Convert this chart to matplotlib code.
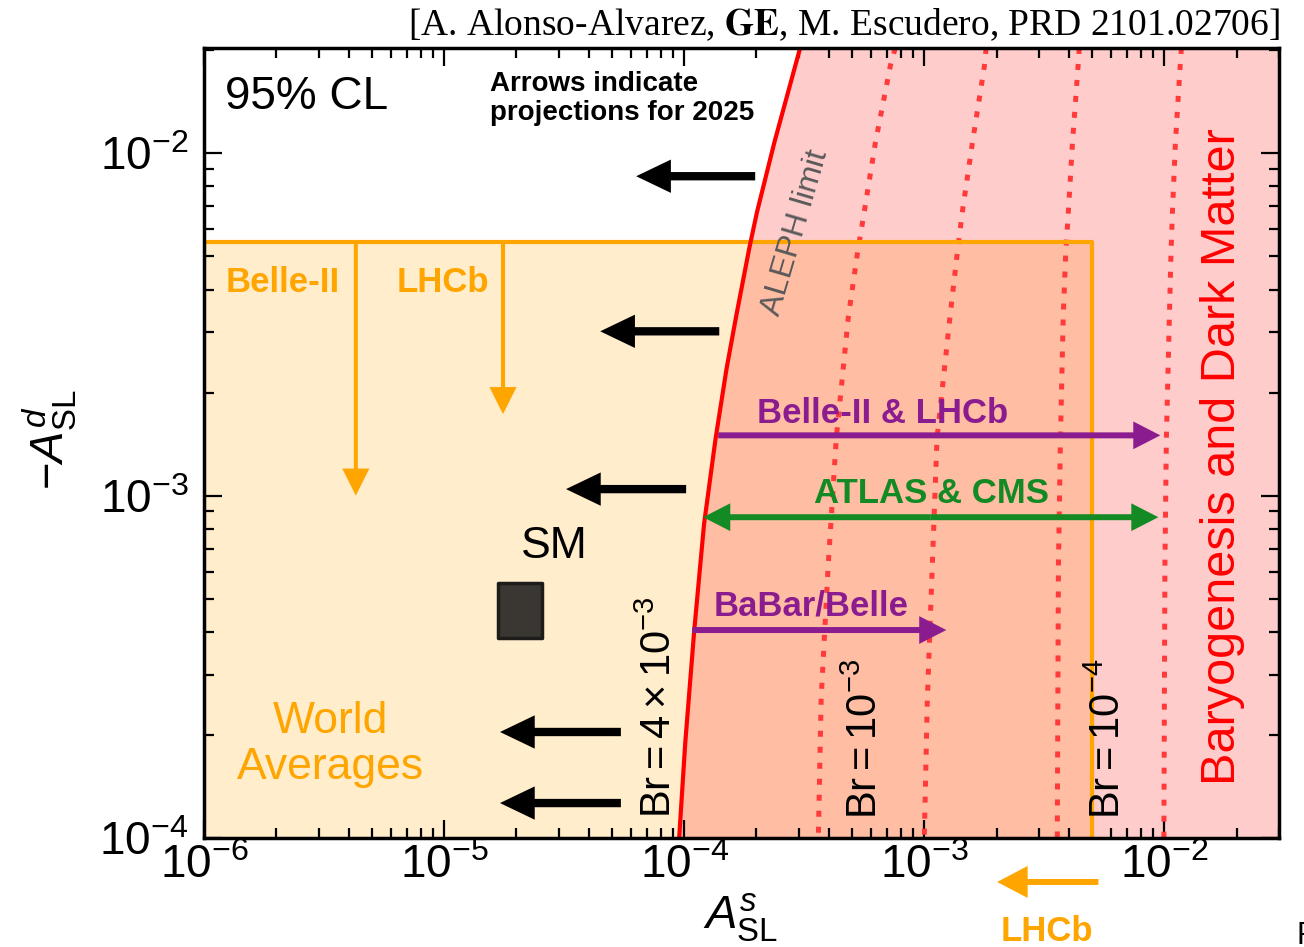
import matplotlib
matplotlib.use('Agg')
import matplotlib.pyplot as plt
from matplotlib.patches import Rectangle
from matplotlib.ticker import NullFormatter

plt.rcParams['font.family'] = ['Liberation Sans', 'DejaVu Sans']
plt.rcParams['mathtext.fontset'] = 'custom'
plt.rcParams['mathtext.rm'] = 'Liberation Sans'
plt.rcParams['mathtext.it'] = 'Liberation Sans:italic'
plt.rcParams['mathtext.bf'] = 'Liberation Sans:bold'
plt.rcParams['mathtext.sf'] = 'Liberation Sans'

ORANGE = '#FFA500'
PURPLE = '#8B1C8F'
GREEN = '#148A24'

# axis ranges
x_lim = [1e-6, 3.0e-2]
y_lim = [1e-4, 2.03e-2]

# ALEPH limit, Br = 4e-3 (solid red)
aleph_x = [9.53e-5, 1.01e-4, 1.10e-4, 1.21e-4, 1.35e-4, 1.50e-4, 1.65e-4, 1.87e-4, 2.01e-4, 2.37e-4, 3.04e-4]
aleph_y = [1.0e-4, 1.89e-4, 4.0e-4, 8.26e-4, 1.46e-3, 2.34e-3, 3.37e-3, 5.31e-3, 6.73e-3, 1.07e-2, 2.03e-2]

# dotted Br contours (all share the same y samples)
br_y = [2.03e-2, 1.80e-2, 1.07e-2, 6.73e-3, 5.07e-3, 3.34e-3, 1.47e-3, 6.27e-4, 2.56e-4, 1.0e-4]
br1_x = [7.57e-4, 7.22e-4, 6.25e-4, 5.62e-4, 5.26e-4, 4.83e-4, 4.30e-4, 3.98e-4, 3.72e-4, 3.62e-4]
br2_x = [1.81e-3, 1.78e-3, 1.585e-3, 1.44e-3, 1.37e-3, 1.28e-3, 1.13e-3, 1.08e-3, 1.03e-3, 1.0e-3]
br3_x = [4.42e-3, 4.37e-3, 4.14e-3, 3.98e-3, 3.88e-3, 3.79e-3, 3.69e-3, 3.62e-3, 3.60e-3, 3.58e-3]
br4_x = [1.177e-2, 1.163e-2, 1.111e-2, 1.080e-2, 1.065e-2, 1.049e-2, 1.019e-2, 1.005e-2, 1.0e-2, 0.995e-2]

# world averages box
wa_x = 5.01e-3
wa_y = 5.5e-3

# SM box
sm_x = [1.67e-5, 2.57e-5]
sm_y = [3.83e-4, 5.54e-4]

# 2025 projection arrows (black, pointing left)
proj_y = [8.57e-3, 3.02e-3, 1.045e-3, 2.04e-4, 1.265e-4]
proj_from = [1.976e-4, 1.40e-4, 1.019e-4, 5.45e-5, 5.45e-5]
proj_to = [6.31e-5, 4.47e-5, 3.22e-5, 1.71e-5, 1.71e-5]

# Belle-II / LHCb A_SL^d projections (orange, down)
belle2_x, belle2_tip = 4.29e-6, 1.0e-3
lhcb_x, lhcb_tip = 1.76e-5, 1.73e-3

# sensitivity ranges
b2lhcb = [1.386e-4, 9.62e-3, 1.50e-3]
atlas = [1.20e-4, 9.44e-3, 8.65e-4]
babar = [1.08e-4, 1.235e-3, 4.05e-4]

# LHCb A_SL^s projection (below axis)
lhcb_s = [5.31e-3, 2.01e-3, 7.44e-5]


fig = plt.figure(figsize=(13.04, 9.47), dpi=100)
ax = fig.add_axes([0.1564, 0.1151, 0.8244, 0.8342])
ax.set_xscale('log')
ax.set_yscale('log')
ax.set_xlim(x_lim)
ax.set_ylim(y_lim)

# regions
ax.fill_between([x_lim[0], wa_x], y_lim[0], wa_y, color=ORANGE, alpha=0.2, lw=0, zorder=1)
ax.fill_betweenx(aleph_y, aleph_x, x_lim[1], color='red', alpha=0.2, lw=0, zorder=1.5)
ax.plot([x_lim[0], wa_x, wa_x], [wa_y, wa_y, y_lim[0]], color=ORANGE, lw=3, zorder=2.5)

for bx in [br1_x, br2_x, br3_x, br4_x]:
    ax.plot(bx, br_y, color='#FF3A3A', lw=3.6, ls=(0, (1.2, 2.0)), zorder=2)
ax.plot(aleph_x, aleph_y, color='red', lw=3, zorder=3)

ax.add_patch(Rectangle((sm_x[0], sm_y[0]), sm_x[1] - sm_x[0], sm_y[1] - sm_y[0],
                       facecolor='#3a3631', edgecolor='#1e1c1a', lw=2.5, joinstyle='round', zorder=4))


def arrow(x0, y0, x1, y1, color, hl, hw, tw):
    style = 'simple,head_length=%g,head_width=%g,tail_width=%g' % (hl, hw, tw)
    ax.annotate('', xy=(x1, y1), xytext=(x0, y0),
                arrowprops=dict(arrowstyle=style, color=color, lw=0,
                                shrinkA=0, shrinkB=0, mutation_scale=10),
                annotation_clip=False, zorder=5)


for y, x0, x1 in zip(proj_y, proj_from, proj_to):
    arrow(x0, y, x1, y, 'black', 2.5, 2.4, 0.6)

arrow(belle2_x, wa_y, belle2_x, belle2_tip, ORANGE, 1.95, 1.95, 0.29)
arrow(lhcb_x, wa_y, lhcb_x, lhcb_tip, ORANGE, 1.95, 1.95, 0.29)

arrow(b2lhcb[0], b2lhcb[2], b2lhcb[1], b2lhcb[2], PURPLE, 1.95, 2.0, 0.43)
arrow(babar[0], babar[2], babar[1], babar[2], PURPLE, 1.95, 2.0, 0.43)
mid = (atlas[0] * atlas[1]) ** 0.5
arrow(mid, atlas[2], atlas[1], atlas[2], GREEN, 1.95, 2.0, 0.43)
arrow(mid, atlas[2], atlas[0], atlas[2], GREEN, 1.95, 2.0, 0.43)

arrow(lhcb_s[0], lhcb_s[2], lhcb_s[1], lhcb_s[2], ORANGE, 2.2, 2.3, 0.43)

# labels
ax.text(1.22e-6, 1.457e-2, '95% CL', fontsize=33, ha='left', va='center')
ax.text(1.555e-5, 1.447e-2, 'Arrows indicate\nprojections for 2025', fontsize=20,
        fontweight='bold', ha='left', va='center', linespacing=1.15)
ax.text(1.235e-6, 4.2e-3, 'Belle-II', color=ORANGE, fontsize=25, fontweight='bold', ha='left', va='center')
ax.text(6.37e-6, 4.2e-3, 'LHCb', color=ORANGE, fontsize=25, fontweight='bold', ha='left', va='center')
ax.text(6.68e-4, 1.74e-3, 'Belle-II & LHCb', color=PURPLE, fontsize=25, fontweight='bold', ha='center', va='center')
ax.text(1.07e-3, 1.017e-3, 'ATLAS & CMS', color=GREEN, fontsize=25, fontweight='bold', ha='center', va='center')
ax.text(3.38e-4, 4.76e-4, 'BaBar/Belle', color=PURPLE, fontsize=25, fontweight='bold', ha='center', va='center')
ax.text(2.87e-5, 7.12e-4, 'SM', fontsize=32, ha='center', va='center')
ax.text(3.38e-6, 1.88e-4, 'World\nAverages', color=ORANGE, fontsize=32, ha='center', va='center', linespacing=1.15)
ax.text(2.90e-4, 5.87e-3, 'ALEPH limit', rotation=73.6, color='#5a5a5a', fontsize=23,
        ha='center', va='center', rotation_mode='anchor')
ax.text(1.745e-2, 1.296e-3, 'Baryogenesis and Dark Matter', rotation=90, color='red',
        fontsize=35, ha='center', va='center')
ax.text(7.94e-5, 2.41e-4, r'$\mathrm{Br}=4\times10^{-3}$', rotation=90, fontsize=30, ha='center', va='center')
ax.text(5.73e-4, 1.945e-4, r'$\mathrm{Br}=10^{-3}$', rotation=90, fontsize=30, ha='center', va='center')
ax.text(5.84e-3, 1.945e-4, r'$\mathrm{Br}=10^{-4}$', rotation=90, fontsize=30, ha='center', va='center')
ax.text(3.25e-3, 5.35e-5, 'LHCb', color=ORANGE, fontsize=25, fontweight='bold', ha='center', va='center')

ax.set_xlabel(r'$A^{s}_{\mathrm{SL}}$', fontsize=34, va='center')
ax.xaxis.set_label_coords(0.499, -0.101)
ax.set_ylabel(r'$-A^{d}_{\mathrm{SL}}$', fontsize=34, va='center', ha='center')
ax.yaxis.set_label_coords(-0.143, 0.504)

ax.tick_params(which='both', direction='in', top=True, right=True, width=1.6, labelsize=33)
ax.tick_params(which='major', length=13)
ax.tick_params(which='minor', length=7)
ax.tick_params(axis='x', pad=4)
ax.tick_params(axis='y', pad=11)
ax.xaxis.set_minor_formatter(NullFormatter())
ax.yaxis.set_minor_formatter(NullFormatter())
for sp in ax.spines.values():
    sp.set_linewidth(2.5)
    sp.set_zorder(6)

fig.text(0.9816, 0.9736, r'[A. Alonso-Alvarez, $\mathbf{GE}$, M. Escudero, PRD 2101.02706]',
         fontsize=27, family='Liberation Serif', math_fontfamily='stix', ha='right', va='center')
fig.text(0.9945, -0.004, 'P', fontsize=22, ha='left', va='bottom')

fig.savefig('out.png', dpi=100)
